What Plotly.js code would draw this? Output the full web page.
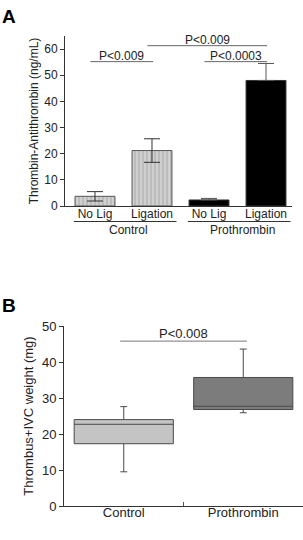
<!DOCTYPE html>
<html>
<head>
<meta charset="utf-8">
<script src="https://cdn.plot.ly/plotly-3.0.1.min.js"></script>
<style>html,body{margin:0;padding:0;background:#fff;}#chart{width:303px;height:540px;}</style>
</head>
<body>
<div id="chart"></div>
<script>
// Panel A data
const categoriesA = ['No Lig', 'Ligation', 'No Lig', 'Ligation'];
const groupsA = ['Control', 'Control', 'Prothrombin', 'Prothrombin'];
const tatValues = [3.7, 21.2, 2.3, 48.0];
const tatErrPlus = [1.8, 4.5, 0.6, 6.5];
const tatErrMinus = [1.8, 4.5, 0, 0];
const pairsA = [
  {from: 0, to: 1, y: 55.2, label: 'P<0.009'},
  {from: 1, to: 3, y: 61.3, label: 'P<0.009'},
  {from: 2, to: 3, y: 55.2, label: 'P<0.0003'}
];
// Panel B data
const categoriesB = ['Control', 'Prothrombin'];
const bQ1 = [17.3, 26.8];
const bMedian = [22.7, 27.7];
const bQ3 = [24.0, 35.7];
const bLow = [9.5, 25.9];
const bHigh = [27.6, 43.6];
const pairB = {from: 0, to: 1, y: 45.8, label: 'P<0.008'};

const font = {family: 'Liberation Sans, Arial, sans-serif', color: '#222'};
const idx = categoriesA.map((c, i) => i);
const ctrlIdx = idx.filter(i => groupsA[i] === 'Control');
const proIdx = idx.filter(i => groupsA[i] === 'Prothrombin');

const traces = [
  {
    type: 'bar', xaxis: 'x', yaxis: 'y',
    x: ctrlIdx, y: ctrlIdx.map(i => tatValues[i]),
    width: 0.7,
    marker: {color: '#cccccc', line: {color: '#555', width: 1},
      pattern: {shape: '|', fgcolor: '#a8a8a8', bgcolor: '#d0d0d0', size: 4, solidity: 0.25}},
    error_y: {type: 'data', symmetric: false, array: ctrlIdx.map(i => tatErrPlus[i]),
      arrayminus: ctrlIdx.map(i => tatErrMinus[i]), color: '#333', thickness: 1, width: 8},
    showlegend: false, hoverinfo: 'none'
  },
  {
    type: 'bar', xaxis: 'x', yaxis: 'y',
    x: proIdx, y: proIdx.map(i => tatValues[i]),
    width: 0.7,
    marker: {color: '#000', line: {color: '#333', width: 1}},
    error_y: {type: 'data', symmetric: false, array: proIdx.map(i => tatErrPlus[i]),
      arrayminus: proIdx.map(i => tatErrMinus[i]), color: '#555', thickness: 1, width: 8},
    showlegend: false, hoverinfo: 'none'
  }
];

const boxColors = ['#c4c4c4', '#7c7c7c'];
categoriesB.forEach((c, i) => {
  traces.push({
    type: 'box', xaxis: 'x2', yaxis: 'y2',
    x: [c], q1: [bQ1[i]], median: [bMedian[i]], q3: [bQ3[i]],
    lowerfence: [bLow[i]], upperfence: [bHigh[i]],
    fillcolor: boxColors[i], line: {color: '#4a4a4a', width: 1},
    width: 0.83, whiskerwidth: 0.07, showlegend: false, hoverinfo: 'none'
  });
});

const shapes = [];
const annotations = [];
pairsA.forEach(p => {
  const x0 = p.from - 0.08, x1 = p.to + 0.02;
  shapes.push({type: 'line', xref: 'x', yref: 'y', x0: x0, x1: x1,
    y0: p.y, y1: p.y, line: {color: '#666', width: 1}});
  annotations.push({xref: 'x', yref: 'y', x: (x0 + x1) / 2, y: p.y, text: p.label,
    showarrow: false, yanchor: 'bottom', yshift: -3, font: Object.assign({}, font, {size: 12})});
});
// group underlines and labels
const groupNames = [...new Set(groupsA)];
groupNames.forEach(g => {
  const ii = idx.filter(i => groupsA[i] === g);
  const a = Math.min(...ii), b = Math.max(...ii);
  const x0 = a - 0.37, x1 = b + 0.43;
  shapes.push({type: 'line', xref: 'x', yref: 'paper', x0: x0, x1: x1,
    y0: 1 - 221.5 / 540, y1: 1 - 221.5 / 540, line: {color: '#333', width: 1}});
  annotations.push({xref: 'x', yref: 'paper', x: (x0 + x1) / 2 + 0.05, y: 1 - 230 / 540, text: g,
    showarrow: false, yanchor: 'middle', font: Object.assign({}, font, {size: 12})});
});
shapes.push({type: 'line', xref: 'x2', yref: 'y2', x0: pairB.from - 0.03, x1: pairB.to + 0.03,
  y0: pairB.y, y1: pairB.y, line: {color: '#777', width: 1}});
annotations.push({xref: 'x2', yref: 'y2', x: (pairB.from + pairB.to) / 2, y: pairB.y, text: pairB.label,
  showarrow: false, yanchor: 'bottom', yshift: -2, font: Object.assign({}, font, {size: 13})});
annotations.push({xref: 'paper', yref: 'paper', x: 0.0, y: 1 - 17 / 540, xanchor: 'left', yanchor: 'middle',
  text: '<b>A</b>', showarrow: false, font: {family: 'Liberation Sans, Arial, sans-serif', size: 19, color: '#000'}});
annotations.push({xref: 'paper', yref: 'paper', x: 0.0, y: 1 - 305 / 540, xanchor: 'left', yanchor: 'middle',
  text: '<b>B</b>', showarrow: false, font: {family: 'Liberation Sans, Arial, sans-serif', size: 19, color: '#000'}});

const layout = {
  width: 303, height: 540,
  margin: {l: 0, r: 0, t: 0, b: 0},
  paper_bgcolor: '#fff', plot_bgcolor: '#fff',
  font: font,
  xaxis: {
    domain: [65 / 303, 292 / 303], range: [-0.526, 3.456],
    tickvals: idx, ticktext: categoriesA, ticks: '', showline: true, linecolor: '#333', linewidth: 1,
    showgrid: false, zeroline: false, tickfont: {size: 12, color: '#222'}, ticklabelstandoff: -3
  },
  yaxis: {
    domain: [1 - 206 / 540, 1 - 36 / 540], range: [0, 65],
    tickvals: [0, 10, 20, 30, 40, 50, 60], ticks: 'outside', ticklen: 4, tickcolor: '#333',
    showline: true, linecolor: '#333', linewidth: 1, showgrid: false, zeroline: false,
    tickfont: {size: 12, color: '#222'},
    title: {text: 'Thrombin-Antithrombin (ng/mL)', font: {size: 12, color: '#222'}, standoff: 3}
  },
  xaxis2: {
    domain: [64 / 303, 1], range: [-0.5, 1.5], type: 'category',
    tickson: 'boundaries', ticks: 'inside', ticklen: 4, tickcolor: '#555',
    showline: true, linecolor: '#333', linewidth: 1, showgrid: false, zeroline: false,
    tickfont: {size: 13, color: '#222'}, anchor: 'y2', ticklabelstandoff: -6
  },
  yaxis2: {
    domain: [1 - 506 / 540, 1 - 326 / 540], range: [0, 50],
    tickvals: [0, 10, 20, 30, 40, 50], ticks: 'outside', ticklen: 4, tickcolor: '#333',
    showline: true, linecolor: '#333', linewidth: 1, showgrid: false, zeroline: false,
    tickfont: {size: 13, color: '#222'}, anchor: 'x2',
    title: {text: 'Thrombus+IVC weight (mg)', font: {size: 13, color: '#222'}, standoff: 5}
  },
  shapes: shapes,
  annotations: annotations,
  bargap: 0.3
};

Plotly.newPlot('chart', traces, layout, {displayModeBar: false, staticPlot: true});
</script>
</body>
</html>
